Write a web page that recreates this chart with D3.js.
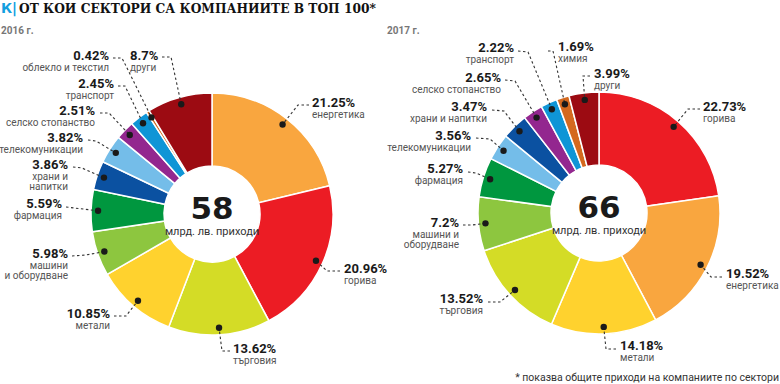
<!DOCTYPE html>
<html lang="bg">
<head>
<meta charset="utf-8">
<script src="https://cdn.jsdelivr.net/npm/d3@7"></script>
<style>
  body { margin: 0; background: #fff; }
  svg { display: block; }
  .pct { font-family: Roboto, "Noto Sans", sans-serif; font-weight: 700; font-size: 13px; fill: #1a1a1a; }
  .name { font-family: Roboto, "Noto Sans", sans-serif; font-size: 10px; fill: #555; }
</style>
</head>
<body>
<svg id="chart" width="780" height="384" lang="bg"></svg>
<script>
// data
var years = ["2016 г.", "2017 г."];
var totals = [58, 66];
var sectors2016 = ["енергетика", "горива", "търговия", "метали", "машини и оборудване", "фармация",
  "храни и напитки", "телекомуникации", "селско стопанство", "транспорт", "облекло и текстил", "други"];
var values2016 = [21.25, 20.96, 13.62, 10.85, 5.98, 5.59, 3.86, 3.82, 2.51, 2.45, 0.42, 8.7];
var sectors2017 = ["горива", "енергетика", "метали", "търговия", "машини и оборудване", "фармация",
  "телекомуникации", "храни и напитки", "селско стопанство", "транспорт", "химия", "други"];
var values2017 = [22.73, 19.52, 14.18, 13.52, 7.2, 5.27, 3.56, 3.47, 2.65, 2.22, 1.69, 3.99];

var colorNames = ["енергетика", "горива", "търговия", "метали", "машини и оборудване", "фармация",
  "храни и напитки", "телекомуникации", "селско стопанство", "транспорт", "облекло и текстил", "химия", "други"];
var colorValues = ["#f9a63f", "#ec1c24", "#d4dc26", "#ffd22e", "#8dc63f", "#00973f",
  "#0b51a1", "#74bde9", "#93278f", "#0f95d6", "#d4691f", "#d4691f", "#9c0b12"];
var color = d3.scaleOrdinal().domain(colorNames).range(colorValues);

// label placement, offsets from each chart's centre: [anchor, x, y, leader points, words on first line]
var layout2016 = [
  ["start", 100, -112, [[97, -109], [86, -109]]],
  ["start", 132, 54, [[128, 57], [115, 57]]],
  ["start", 21, 134, [[18, 137], [10, 137]]],
  ["end", -102, 99, [[-98, 102], [-86, 102]]],
  ["end", -144, 39, [[-140, 42], [-126, 41]], 1],
  ["end", -150, -11, [[-146, -7]]],
  ["end", -144, -50, [[-139, -47], [-130, -46]], 2],
  ["end", -129, -77, [[-124, -74], [-116, -73]]],
  ["end", -117, -104, [[-112, -101], [-103, -101]]],
  ["end", -98, -131, [[-94, -128], [-87, -128]]],
  ["end", -103, -159, [[-99, -156], [-90, -156]]],
  ["start", -82, -159, [[-50, -157], [-41, -157]]]
];
var layout2017 = [
  ["start", 104, -107, [[101, -104], [89, -104]]],
  ["start", 127, 60, [[123, 64], [112, 64]]],
  ["start", 21, 132, [[17, 136], [7, 136]]],
  ["end", -116, 85, [[-111, 89], [-99, 89]]],
  ["end", -140, 9, [[-136, 12], [-127, 12]], 2],
  ["end", -136, -45, [[-131, -41], [-123, -40]]],
  ["end", -128, -78, [[-123, -75], [-109, -74]]],
  ["end", -112, -107, [[-107, -103], [-95, -102]]],
  ["end", -98, -136, [[-94, -133], [-84, -132]]],
  ["end", -85, -166, [[-81, -162], [-71, -161]]],
  ["start", -41, -167, [[-51, -162], [-46, -162]]],
  ["start", -5, -140, [[-9, -137], [-16, -137]]]
];

var svg = d3.select("#chart");
var outerR = 121, innerR = 48, dotR = 114;

// title
var title = svg.append("text").attr("x", 1).attr("y", 13)
  .style("font-family", "'DejaVu Serif Condensed', 'DejaVu Serif', serif")
  .style("font-weight", 700).style("font-size", "13.6px");
title.append("tspan").attr("fill", "#139fdf").style("font-family", "'DejaVu Sans', sans-serif").text("К|");
title.append("tspan").attr("fill", "#111").attr("dx", 2).text("ОТ КОИ СЕКТОРИ СА КОМПАНИИТЕ В ТОП 100*");

svg.append("text").attr("x", 779).attr("y", 381).attr("text-anchor", "end")
  .style("font-family", "Roboto, sans-serif").style("font-size", "10.5px").attr("fill", "#333")
  .text("* показва общите приходи на компаниите по сектори");

function drawDonut(cx, cy, yearX, year, total, sectors, values, layout) {
  svg.append("text").attr("x", yearX).attr("y", 34)
    .style("font-family", "Roboto, sans-serif").style("font-weight", 700).style("font-size", "10px")
    .attr("fill", "#777").text(year);

  var g = svg.append("g").attr("transform", "translate(" + cx + "," + cy + ")");
  var data = sectors.map(function(s, i) { return {name: s, value: values[i], lay: layout[i]}; });
  var pie = d3.pie().sort(null).value(function(d) { return d.value; });
  var arc = d3.arc().innerRadius(innerR).outerRadius(outerR);
  var dotArc = d3.arc().innerRadius(dotR).outerRadius(dotR);
  var arcs = pie(data);

  g.selectAll("path.slice").data(arcs).enter().append("path")
    .attr("class", "slice")
    .attr("d", arc)
    .attr("fill", function(d) { return color(d.data.name); })
    .attr("stroke", "#fff").attr("stroke-width", 1.5);

  // leaders
  g.selectAll("path.leader").data(arcs).enter().append("path")
    .attr("class", "leader")
    .attr("d", function(d) {
      var pts = d.data.lay[3].concat([dotArc.centroid(d)]);
      return d3.line()(pts);
    })
    .attr("fill", "none").attr("stroke", "#333").attr("stroke-width", 1.1)
    .attr("stroke-dasharray", "2.5,2.5");

  g.selectAll("circle.dot").data(arcs).enter().append("circle")
    .attr("class", "dot")
    .attr("cx", function(d) { return dotArc.centroid(d)[0]; })
    .attr("cy", function(d) { return dotArc.centroid(d)[1]; })
    .attr("r", 3.2).attr("fill", "#1a1a1a");

  var labels = g.selectAll("g.label").data(arcs).enter().append("g").attr("class", "label");
  labels.append("text").attr("class", "pct")
    .attr("x", function(d) { return d.data.lay[1]; })
    .attr("y", function(d) { return d.data.lay[2] + 4.5; })
    .attr("text-anchor", function(d) { return d.data.lay[0]; })
    .text(function(d) { return d.data.value + "%"; });
  labels.each(function(d) {
    var words = d.data.name.split(" ");
    var k = d.data.lay[4] || words.length;
    var lines = [words.slice(0, k).join(" ")];
    if (k < words.length) lines.push(words.slice(k).join(" "));
    var t = d3.select(this).append("text").attr("class", "name")
      .attr("text-anchor", d.data.lay[0]);
    lines.forEach(function(line, i) {
      t.append("tspan").attr("x", d.data.lay[1])
        .attr("y", d.data.lay[2] + 15.5 + i * 10).text(line);
    });
  });

  g.append("text").attr("y", 5).attr("text-anchor", "middle")
    .style("font-family", "'DejaVu Sans', sans-serif").style("font-weight", 700)
    .style("font-size", "31px").attr("fill", "#1a1a1a").text(total);
  g.append("text").attr("y", 21).attr("text-anchor", "middle")
    .style("font-family", "Roboto, sans-serif").style("font-size", "11px")
    .attr("fill", "#333").text("млрд. лв. приходи");
}

drawDonut(212, 214, 1, years[0], totals[0], sectors2016, values2016, layout2016);
drawDonut(599, 213, 387, years[1], totals[1], sectors2017, values2017, layout2017);
</script>
</body>
</html>
